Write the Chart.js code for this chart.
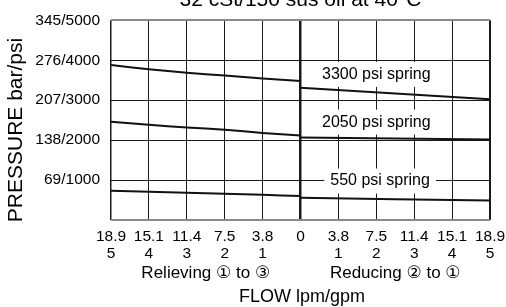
<!DOCTYPE html>
<html>
<head>
<meta charset="utf-8">
<script src="https://cdn.jsdelivr.net/npm/chart.js@4.4.1/dist/chart.umd.min.js"></script>
<style>
  html, body { margin: 0; padding: 0; background: #fff; }
  canvas { display: block; }
</style>
</head>
<body>
<canvas id="flowChart" width="506" height="307"></canvas>
<script>
// tick labels
const xTickLpm = ["18.9", "15.1", "11.4", "7.5", "3.8", "0", "3.8", "7.5", "11.4", "15.1", "18.9"];
const xTickGpm = ["5", "4", "3", "2", "1", "", "1", "2", "3", "4", "5"];
const yTickLabels = ["", "69/1000", "138/2000", "207/3000", "276/4000", "345/5000"];

// flow in gpm (relieving side drawn to the left of 0)
const relievingFlow = [-5, -4, -3, -2, -1, 0];
const reducingFlow = [0, 5];

// pressure in psi
const psi3300Relieving = [3880, 3775, 3685, 3615, 3545, 3480];
const psi3300Reducing = [3310, 3025];
const psi2050Relieving = [2460, 2385, 2315, 2260, 2180, 2115];
const psi2050Reducing = [2065, 2015];
const psi550Relieving = [730, 705, 683, 659, 630, 602];
const psi550Reducing = [555, 490];

const springNames = ["3300 psi spring", "2050 psi spring", "550 psi spring"];
const springLabelX = [2, 2, 2.1];
const springLabelY = [3646, 2451, 976];

const FONT = '"Liberation Sans", Arial, "DejaVu Sans", sans-serif';

const toPoints = (xs, ys) => xs.map((x, i) => ({ x: x, y: ys[i] }));

const lineSet = (xs, ys) => ({
  data: toPoints(xs, ys),
  borderColor: "#111",
  borderWidth: 2,
  pointRadius: 0,
  fill: false,
  tension: 0.2,
});

// text that is not part of the axes: title, spring labels, axis titles
const textPlugin = {
  id: "textPlugin",
  afterDatasetsDraw(chart) {
    const ctx = chart.ctx;
    const xs = chart.scales.x;
    const ys = chart.scales.y;
    ctx.save();
    ctx.font = "16px " + FONT;
    ctx.textAlign = "center";
    ctx.textBaseline = "middle";
    springNames.forEach((name, i) => {
      const px = xs.getPixelForValue(springLabelX[i]);
      const py = ys.getPixelForValue(springLabelY[i]);
      const w = ctx.measureText(name).width;
      ctx.fillStyle = "#fff";
      ctx.fillRect(px - w / 2 - 6, py - 12.5, w + 12, 25);
      ctx.fillStyle = "#000";
      ctx.fillText(name, px, py);
    });
    ctx.restore();
  },
  afterDraw(chart) {
    const ctx = chart.ctx;
    const xs = chart.scales.x;
    ctx.save();
    ctx.fillStyle = "#000";
    ctx.textAlign = "center";

    // title, cut at the top edge
    ctx.font = "21px " + FONT;
    ctx.textBaseline = "alphabetic";
    ctx.fillText("32 cSt/150 sus oil at 40°C", xs.getPixelForValue(0), 5.5);

    ctx.textBaseline = "middle";
    ctx.font = "17px " + FONT;
    const left = (xs.getPixelForValue(-5) + xs.getPixelForValue(0)) / 2;
    const right = (xs.getPixelForValue(0) + xs.getPixelForValue(5)) / 2;
    ctx.fillText("Relieving \u2460 to \u2462", left, 273);
    ctx.fillText("Reducing \u2461 to \u2460", right, 273);

    ctx.font = "18px " + FONT;
    ctx.fillText("FLOW lpm/gpm", 302, 297);

    ctx.font = "21px " + FONT;
    ctx.translate(16, 130);
    ctx.rotate(-Math.PI / 2);
    ctx.fillText("PRESSURE bar/psi", 0, 0);
    ctx.restore();
  },
};

new Chart(document.getElementById("flowChart"), {
  type: "line",
  data: {
    datasets: [
      lineSet(relievingFlow, psi3300Relieving),
      lineSet(reducingFlow, psi3300Reducing),
      lineSet(relievingFlow, psi2050Relieving),
      lineSet(reducingFlow, psi2050Reducing),
      lineSet(relievingFlow, psi550Relieving),
      lineSet(reducingFlow, psi550Reducing),
    ],
  },
  options: {
    responsive: false,
    animation: false,
    layout: { padding: { top: 15, right: 16, left: 0, bottom: 0 } },
    plugins: {
      legend: { display: false },
      tooltip: { enabled: false },
    },
    scales: {
      x: {
        type: "linear",
        min: -5,
        max: 5,
        afterFit: (scale) => {
          scale.height = 87;
          scale.paddingLeft = 0;
          scale.paddingRight = 0;
        },
        border: { display: false },
        grid: {
          drawTicks: false,
          color: "#1a1a1a",
          lineWidth: (c) => {
            const v = c.tick && c.tick.value;
            if (v === 0) return 2.5;
            if (v === 5) return 2;
            if (v === -5) return 1.5;
            return 1;
          },
        },
        ticks: {
          stepSize: 1,
          autoSkip: false,
          maxRotation: 0,
          padding: 9,
          color: "#000",
          font: { size: 15.5, family: FONT, lineHeight: 1.06 },
          callback: (v) => {
            const i = Math.round(v) + 5;
            return xTickGpm[i] ? [xTickLpm[i], xTickGpm[i]] : xTickLpm[i];
          },
        },
      },
      y: {
        min: 0,
        max: 5000,
        afterFit: (scale) => { scale.width = 111; },
        border: { display: false },
        grid: {
          drawTicks: false,
          color: (c) => {
            const v = c.tick && c.tick.value;
            return v === 0 || v === 5000 ? "#8a8a8a" : "#1a1a1a";
          },
          lineWidth: (c) => {
            const v = c.tick && c.tick.value;
            return v === 0 || v === 5000 ? 2 : 1;
          },
        },
        ticks: {
          stepSize: 1000,
          padding: 11,
          color: "#000",
          font: { size: 15.5, family: FONT },
          callback: (v) => yTickLabels[Math.round(v / 1000)],
        },
      },
    },
  },
  plugins: [textPlugin],
});
</script>
</body>
</html>
